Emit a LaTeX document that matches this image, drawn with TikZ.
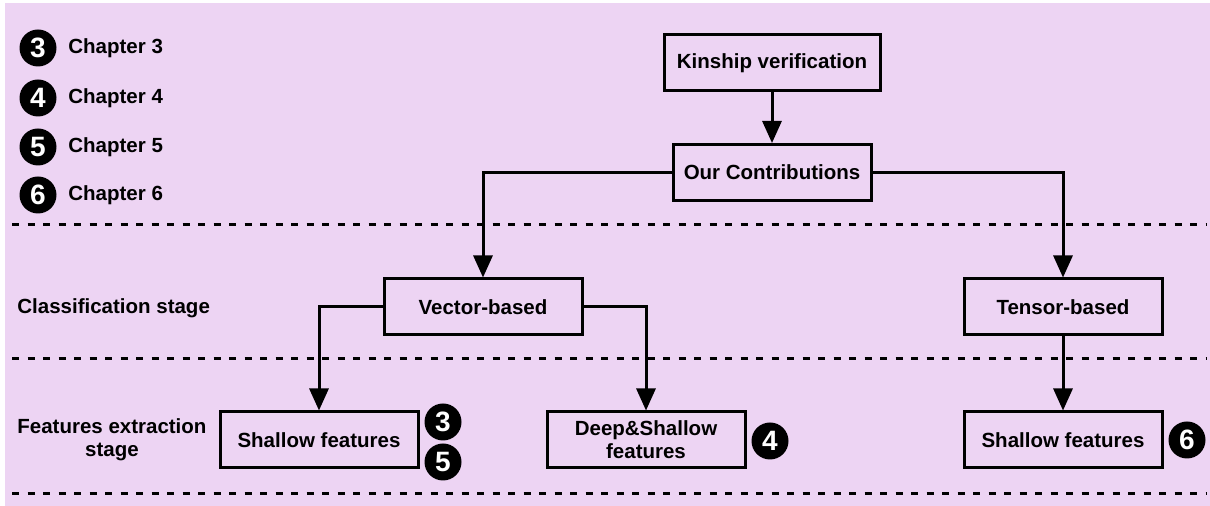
\documentclass[tikz,border=0pt]{standalone}
\usepackage{fontspec}
\setmainfont{Liberation Sans}
\usepackage{xcolor}
\usepackage{tikz}
\usetikzlibrary{arrows.meta}
\definecolor{stagebg}{RGB}{237,212,243}

\begin{document}
\begin{tikzpicture}[x=0.5pt, y=-0.5pt,
  font=\fontsize{10.25}{11.5}\selectfont\bfseries,
  box/.style={draw, line width=1.5pt, minimum width=99pt, minimum height=28pt, inner sep=2pt, align=center},
  badge/.style={circle, fill=black, text=white, minimum size=18.5pt, inner sep=0pt, font=\fontsize{14}{14}\selectfont\bfseries},
  tag/.style={anchor=west, inner sep=0pt, align=center},
  link/.style={line width=1.5pt, -{Triangle[width=9.5pt,length=11pt]}},
  sep/.style={line width=1.5pt, dash pattern=on 3.5pt off 4.25pt}]
  \useasboundingbox (0,0) rectangle (1210,506);
  % Lavender background panel
  \fill[stagebg] (5,3) rectangle (1210,506);
  % Stage separators
  \draw[sep] (12,225) -- (1207,225);
  \draw[sep] (12,359) -- (1207,359);
  \draw[sep] (12,494) -- (1207,494);
  % Legend: chapter badges
  \node[badge] (lg3) at (38,48) {3};
  \node[badge] (lg4) at (38,98) {4};
  \node[badge] (lg5) at (38,147) {5};
  \node[badge] (lg6) at (38,195) {6};
  \node[tag] (lgt3) at (68,48) {Chapter 3};
  \node[tag] (lgt4) at (68,98) {Chapter 4};
  \node[tag] (lgt5) at (68,147) {Chapter 5};
  \node[tag] (lgt6) at (68,195) {Chapter 6};
  % Stage labels
  \node[tag] (clsstage) at (17,308) {Classification stage};
  \node[tag] (featstage) at (17,440) {Features extraction\\stage};
  % Boxes
  \node[box, minimum width=108pt] (kinship) at (772,63) {Kinship verification};
  \node[box] (contrib) at (772,172.5) {Our Contributions};
  \node[box] (vector) at (483,307) {Vector-based};
  \node[box] (tensor) at (1063,307) {Tensor-based};
  \node[box] (shallowL) at (319,440) {Shallow features};
  \node[box] (deepshallow) at (646,440) {Deep\&Shallow\\features};
  \node[box] (shallowR) at (1063,440) {Shallow features};
  % Badges on the feature boxes
  \node[badge] (bd3) at (443,422) {3};
  \node[badge] (bd5) at (443,462) {5};
  \node[badge] (bd4) at (770,441) {4};
  \node[badge] (bd6) at (1187,440) {6};
  % Connectors
  \draw[link] (kinship) -- (contrib);
  \draw[link] (contrib.west) -| (vector.north);
  \draw[link] (contrib.east) -| (tensor.north);
  \draw[link] (vector.west) -| (shallowL.north);
  \draw[link] (vector.east) -| (deepshallow.north);
  \draw[link] (tensor) -- (shallowR);
\end{tikzpicture}
\end{document}
